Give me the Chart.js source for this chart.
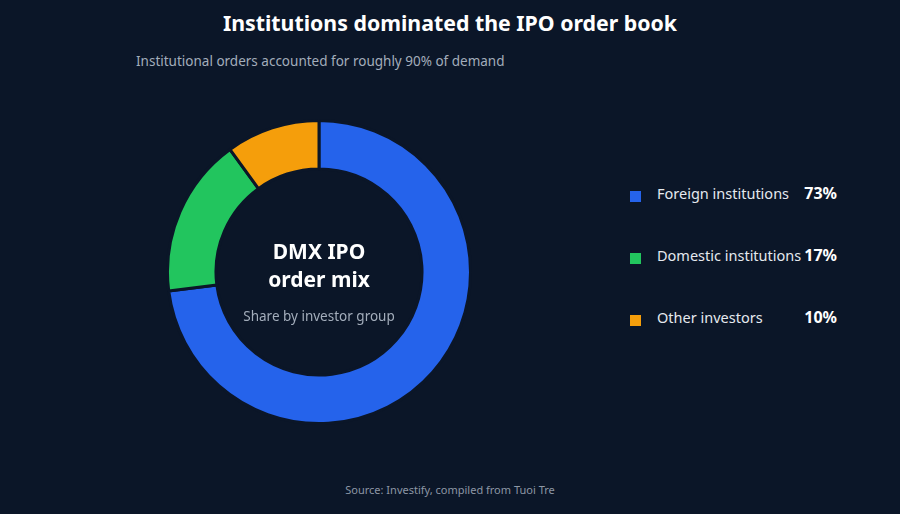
<!DOCTYPE html>
<html><head><meta charset="utf-8">
<script src="https://cdn.jsdelivr.net/npm/chart.js@4/dist/chart.umd.min.js"></script>
<style>
html,body{margin:0;padding:0;background:#0b1628;width:900px;height:514px;overflow:hidden;font-family:"Noto Sans",sans-serif;}
#title{position:absolute;top:8px;left:0;width:900px;text-align:center;color:#fff;font-size:21.3px;font-weight:700;}
#sub{position:absolute;top:52px;left:136px;color:#a3adbb;font-size:13.5px;}
#wrap{position:absolute;left:166px;top:119px;width:306px;height:306px;}
#center{position:absolute;left:169px;top:237px;width:300px;text-align:center;color:#fff;pointer-events:none;}
#center .t{font-size:21px;font-weight:700;line-height:28px;}
#center .s{font-size:13.5px;color:#a3adbb;margin-top:14px;}
#legend{position:absolute;left:630px;top:183px;width:210px;}
.row{position:relative;height:62px;font-size:14.5px;color:#e5e9ef;}
.sw{position:absolute;left:0;top:8px;width:11px;height:11px;}
.lab{position:absolute;left:27px;top:0;}
.pct{position:absolute;right:3px;top:-1px;font-weight:700;font-size:16px;color:#fff;}
#src{position:absolute;top:482px;left:0;width:900px;text-align:center;color:#8d97a5;font-size:11px;}
</style></head><body>
<div id="title">Institutions dominated the IPO order book</div>
<div id="sub">Institutional orders accounted for roughly 90% of demand</div>
<div id="wrap"><canvas id="c" width="306" height="306"></canvas></div>
<div id="center"><div class="t">DMX IPO<br>order mix</div><div class="s">Share by investor group</div></div>
<div id="legend"></div>
<div id="src">Source: Investify, compiled from Tuoi Tre</div>
<script>
const categories=["Foreign institutions","Domestic institutions","Other investors"];
const shares=[73,17,10];
const colors=["#2563eb","#22c55e","#f59e0b"];
const lg=document.getElementById('legend');
categories.forEach((c,i)=>{lg.innerHTML+=`<div class="row"><div class="sw" style="background:${colors[i]}"></div><div class="lab">${c}</div><div class="pct">${shares[i]}%</div></div>`;});
new Chart(document.getElementById('c'),{type:'doughnut',
data:{labels:categories,datasets:[{data:shares,backgroundColor:colors,borderColor:'#0b1628',borderWidth:3}]},
options:{responsive:false,animation:false,cutout:'68%',layout:{padding:0},plugins:{legend:{display:false},tooltip:{enabled:false}}}});
</script>
</body></html>
